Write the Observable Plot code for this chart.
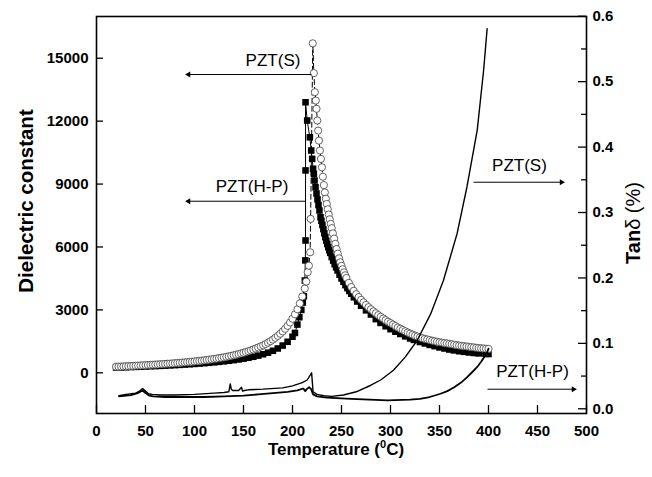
<!DOCTYPE html>
<html><head><meta charset="utf-8">
<script src="https://cdn.jsdelivr.net/npm/d3@7"></script>
<script src="https://cdn.jsdelivr.net/npm/@observablehq/plot@0.6"></script>
<style>body{margin:0;background:#fff} svg{display:block}</style>
</head><body><div id="chart"></div>
<script>
// ---- Dielectric constant, PZT(S) (open circles) ----
const sTemp = [20,22.5,25,27.5,30,32.5,35,37.5,40,42.5,45,47.5,50,52.5,55,57.5,60,62.5,65,67.5,70,72.5,75,77.5,80,82.5,85,87.5,90,92.5,95,97.5,100,102.5,105,107.5,110,112.5,115,117.5,120,122.5,125,127.5,130,132.5,135,137.5,140,142.5,145,147.5,150,152.5,155,157.5,160,162.5,165,167.5,170,172.5,175,177.5,180,182.5,185,187.5,190,192.5,195,197.5,200,202.5,205,207.5,210,212.5,214,215.5,216.7,218,218.5,220.7,221.8,222.8,223.8,224.5,225.3,226.2,227,228,229,230,231,232,233,234,235,236,237,238,239,240,241.2,242.5,243.7,245,246.2,247.5,248.7,250,251.2,252.5,253.7,255,257.5,260,262.5,265,267.5,270,272.5,275,277.5,280,282.5,285,287.5,290,292.5,295,297.5,300,302.5,305,307.5,310,312.5,315,317.5,320,322.5,325,327.5,330,332.5,335,337.5,340,342.5,345,347.5,350,352.5,355,357.5,360,362.5,365,367.5,370,372.5,375,377.5,380,382.5,385,387.5,390,392.5,395,397.5,400];
const sEps = [290,295,300,306,312,318,324,330,337,344,351,358,365,372,379,386,393,400,408,416,424,432,440,449,458,467,477,487,497,508,519,531,543,556,569,583,597,612,628,645,662,680,699,719,740,762,785,810,836,864,893,924,957,992,1030,1070,1112,1157,1205,1257,1312,1372,1437,1508,1585,1670,1762,1863,1975,2100,2240,2400,2580,2790,3030,3310,3640,4020,4350,4800,5110,5750,7340,15710,14290,13380,12980,12590,12030,11550,11070,10600,10200,9800,9350,8950,8600,8300,8050,7800,7550,7320,7100,6900,6650,6400,6150,5900,5680,5460,5270,5100,4940,4790,4650,4520,4290,4090,3910,3750,3610,3480,3360,3240,3130,3030,2930,2840,2750,2670,2590,2510,2440,2370,2300,2230,2160,2100,2040,1980,1920,1870,1820,1770,1730,1690,1650,1620,1590,1560,1530,1505,1480,1460,1440,1420,1400,1380,1360,1340,1320,1300,1285,1270,1255,1240,1225,1210,1195,1180,1170,1160,1150,1140];

// ---- Dielectric constant, PZT(H-P) (filled squares) ----
const hpTemp = [20,25,30,35,40,45,50,55,60,65,70,75,80,85,90,95,100,105,110,115,120,125,130,135,140,145,150,155,160,165,170,175,180,185,190,195,200,202.5,205,207,209,210.5,211.6,212.6,213.1,213.3,213.3,213.3,215,217.7,219.1,220.1,221,221.8,222.5,223.5,224.5,225.5,226.5,227.5,228.6,229.5,230.5,231.5,232.5,233.5,234.5,235.5,236.5,237.5,238.5,240,241.5,243,244.5,246,248,250,252,254,256,258,260,262.6,266,270,275,280,285,289.8,295,300,305,310,315,320,323.8,330,335,340,345,350,355,360,364.6,370,375,380,385,390,396.9,400];
const hpEps = [250,258,266,274,283,292,301,311,321,331,342,354,366,379,393,408,424,441,459,478,499,522,547,574,604,637,674,716,764,820,885,960,1050,1160,1300,1480,1720,1900,2300,2650,3000,3350,3650,4400,5360,6310,9650,12900,12030,11230,10600,10200,9730,9490,9170,8850,8550,8270,8000,7740,7420,7250,7050,6850,6650,6470,6300,6140,5990,5850,5720,5520,5350,5180,5030,4880,4680,4500,4340,4180,4040,3900,3770,3600,3400,3200,2980,2780,2560,2380,2220,2080,1960,1850,1740,1640,1570,1470,1400,1330,1270,1210,1160,1110,1070,1030,1000,970,945,925,905,895];

// ---- Tan delta (%), PZT(S) ----
const sTanTemp = [23,30,40,44,47,50,53,57,65,80,100,120,130,135,136.5,137.5,139,145,148,149,151,155,170,190,200,210,215,219.5,221,225,232,240,252,265,280,290,303,315,327,341,354,368,378,388.5,395,398.6];
const sTan = [0.020,0.022,0.024,0.027,0.031,0.027,0.023,0.022,0.021,0.021,0.022,0.024,0.025,0.026,0.038,0.030,0.028,0.028,0.033,0.027,0.028,0.029,0.030,0.032,0.035,0.040,0.044,0.055,0.026,0.022,0.020,0.019,0.021,0.026,0.036,0.044,0.059,0.079,0.104,0.145,0.196,0.268,0.339,0.426,0.517,0.581];

// ---- Tan delta (%), PZT(H-P) ----
const hpTanTemp = [23,35,42,47,50,54,58,70,90,110,130,150,165,180,195,205,211,213,214.5,217,219,221,225,235,260,297,320,330,340,351,358,365,372,378,384,388.5,393,396,398.6,400];
const hpTan = [0.019,0.021,0.024,0.028,0.024,0.020,0.019,0.018,0.018,0.018,0.019,0.020,0.022,0.024,0.026,0.028,0.031,0.027,0.030,0.033,0.030,0.022,0.019,0.017,0.015,0.013,0.014,0.015,0.018,0.023,0.027,0.033,0.040,0.048,0.057,0.064,0.073,0.080,0.086,0.092];

// ---- Ticks ----
const xTicks = [0,50,100,150,200,250,300,350,400,450,500];
const yTicks = [0,3000,6000,9000,12000,15000];
const tanTicks = [0.0,0.1,0.2,0.3,0.4,0.5,0.6];
const tanMinorTicks = [0.05,0.15,0.25,0.35,0.45,0.55];

// ---- Annotations (label, arrow) ----
const labelText = ["PZT(S)", "PZT(H-P)", "PZT(S)", "PZT(H-P)"];
const labelT = [180.1, 158.7, 431.6, 444.9];
const labelEps = [14652, 8611, 9646, -210];
const arrowFromT = [219.4, 213.3, 384.7, 399];
const arrowToT = [93.9, 93.9, 474.5, 486.7];
const arrowEps = [14223, 8182, 9088, -782];

// scales
const yDomain = [-1940, 16990];
const tanDomain = [-0.0072, 0.5996];
const tanToEps = v => yDomain[0] + (v - tanDomain[0]) / (tanDomain[1] - tanDomain[0]) * (yDomain[1] - yDomain[0]);
const epsToTan = e => tanDomain[0] + (e - yDomain[0]) / (yDomain[1] - yDomain[0]) * (tanDomain[1] - tanDomain[0]);

const sData = sTemp.map((t, i) => ({T: t, eps: sEps[i]}));
const hpData = hpTemp.map((t, i) => ({T: t, eps: hpEps[i]}));
const sTanData = sTanTemp.map((t, i) => ({T: t, v: tanToEps(sTan[i])}));
const hpTanData = hpTanTemp.map((t, i) => ({T: t, v: tanToEps(hpTan[i])}));
const labels = labelText.map((s, i) => ({s, T: labelT[i], eps: labelEps[i]}));
const arrows = arrowFromT.map((t, i) => ({x1: t, x2: arrowToT[i], y: arrowEps[i], rot: arrowToT[i] < t ? -90 : 90}));

const FW = 490, FH = 397;
const font = "'Liberation Sans', Arial, Helvetica, sans-serif";

const plot = Plot.plot({
  width: 652, height: 477,
  marginLeft: 96, marginRight: 66, marginTop: 16, marginBottom: 64,
  x: {domain: [0, 500]},
  y: {domain: yDomain},
  style: {fontFamily: font, background: "white", color: "black"},
  marks: [
    Plot.axisX(xTicks, {tickSize: 0, tickPadding: 12, fontSize: 15, fontWeight: "bold", label: null, tickFormat: d => String(d)}),
    Plot.tickX(xTicks, {x: d => d, insetTop: FH - 8, stroke: "black", strokeWidth: 1.3}),
    Plot.axisY(yTicks, {anchor: "left", tickSize: 0, tickPadding: 8, fontSize: 15, fontWeight: "bold", label: null, tickFormat: d => String(d)}),
    Plot.tickY(yTicks, {y: d => d, insetRight: FW - 7, stroke: "black", strokeWidth: 1.3}),
    Plot.axisY(tanTicks.map(tanToEps), {anchor: "right", tickSize: 0, tickPadding: 6, fontSize: 15, fontWeight: "bold", label: null, tickFormat: d => Math.abs(epsToTan(d)).toFixed(1)}),
    Plot.tickY(tanTicks.map(tanToEps), {y: d => d, insetLeft: FW - 8, stroke: "black", strokeWidth: 1.3}),
    Plot.tickY(tanMinorTicks.map(tanToEps), {y: d => d, insetLeft: FW - 5, stroke: "black", strokeWidth: 1.3}),

    Plot.line(hpData, {x: "T", y: "eps", stroke: "black", strokeWidth: 1}),
    Plot.dot(hpData, {x: "T", y: "eps", symbol: "square", r: 3.7, fill: "black", stroke: "none"}),
    Plot.line(sData, {x: "T", y: "eps", stroke: "black", strokeWidth: 1, strokeDasharray: "5,3"}),
    Plot.dot(sData, {x: "T", y: "eps", r: 3.6, fill: "white", stroke: "#333", strokeWidth: 0.75}),

    Plot.line(hpTanData, {x: "T", y: "v", stroke: "black", strokeWidth: 1.8}),
    Plot.line(sTanData, {x: "T", y: "v", stroke: "black", strokeWidth: 1.4}),

    Plot.link(arrows, {x1: "x1", x2: "x2", y1: "y", y2: "y", stroke: "black", strokeWidth: 1}),
    Plot.dot(arrows, {x: "x2", y: "y", symbol: "triangle", r: 2.2, rotate: "rot", fill: "black", stroke: "none"}),
    Plot.text(labels, {x: "T", y: "eps", text: "s", fontSize: 17, lineAnchor: "bottom", textAnchor: "middle", fill: "black"}),

    Plot.frame({stroke: "black", strokeWidth: 1.6})
  ]
});

const svg = d3.select(plot);
svg.append("text")
  .attr("transform", "translate(25,201) rotate(-90)")
  .attr("text-anchor", "middle").attr("dominant-baseline", "central")
  .attr("font-family", font).attr("font-size", 20.5).attr("font-weight", "bold")
  .text("Dielectric constant");
const tt = svg.append("text")
  .attr("x", 336).attr("y", 455)
  .attr("text-anchor", "middle")
  .attr("font-family", font).attr("font-size", 17).attr("font-weight", "bold");
tt.append("tspan").text("Temperature (");
tt.append("tspan").attr("font-size", 11).attr("dy", -7).text("0");
tt.append("tspan").attr("dy", 7).text("C)");
const tn = svg.append("text")
  .attr("transform", "translate(633,223) rotate(-90)")
  .attr("text-anchor", "middle").attr("dominant-baseline", "central")
  .attr("font-family", font).attr("font-size", 20);
tn.append("tspan").attr("font-weight", "bold").text("Tan");
tn.append("tspan").text("δ (%)");

document.getElementById("chart").appendChild(plot);
</script>
</body></html>
